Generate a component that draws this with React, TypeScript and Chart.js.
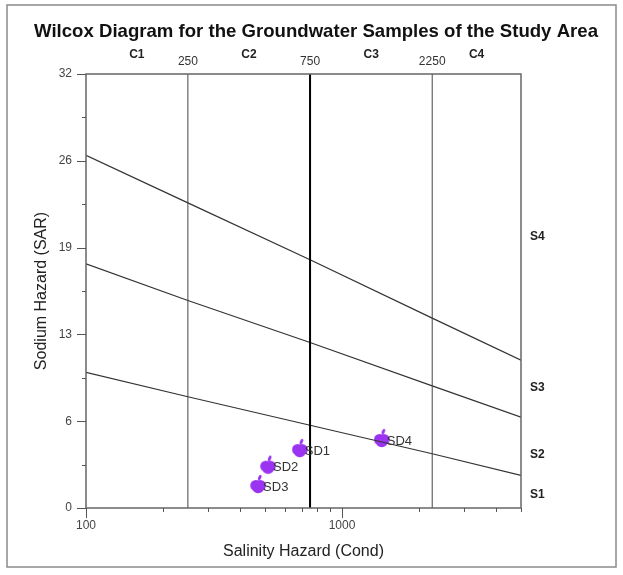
import { useEffect, useRef } from 'react';
import { Chart, registerables } from 'chart.js';

Chart.register(...registerables);

const FONT = '"Liberation Sans", Arial, sans-serif';

const chartTitle = 'Wilcox Diagram for the Groundwater Samples of the Study Area';
const xTitle = 'Salinity Hazard (Cond)';
const yTitle = 'Sodium Hazard (SAR)';

// Samples
const sampleNames = ['SD1', 'SD2', 'SD3', 'SD4'];
const sampleCond = [684, 514, 470, 1429];
const sampleSAR = [4.35, 3.12, 1.7, 5.09];

// Sodium hazard boundary lines (read at these conductivities)
const boundaryCond = [100, 250, 750, 2250, 5000];
const lineS4S3 = [26.0, 22.5, 18.3, 14.0, 10.9];
const lineS3S2 = [18.0, 15.3, 12.2, 9.0, 6.7];
const lineS2S1 = [10.0, 8.2, 6.1, 4.0, 2.4];

// Salinity class limits
const classLimits = [250, 750, 2250];
const classLimitLabels = ['250', '750', '2250'];
const classNames = ['C1', 'C2', 'C3', 'C4'];
const classLabelCond = [158, 433, 1300, 3354];

const sodiumNames = ['S1', 'S2', 'S3', 'S4'];
const sodiumLabelSAR = [1.0, 3.9, 8.9, 20.0];

// Axes
const xMin = 100;
const xMax = 5000;
const yMin = 0;
const yMax = 32;
const xTickValues = [100, 1000];
const xTickLabels = ['100', '1000'];
const xMinorValues = [200, 300, 400, 500, 600, 700, 800, 900, 2000, 3000, 4000, 5000];
const yTickValues = [0, 6.4, 12.8, 19.2, 25.6, 32];
const yTickLabels = ['0', '6', '13', '19', '26', '32'];
const yMinorValues = [3.2, 9.6, 16, 22.4, 28.8];

function makeApple(color: string): HTMLCanvasElement {
  const c = document.createElement('canvas');
  c.width = 16;
  c.height = 22;
  const g = c.getContext('2d')!;
  g.fillStyle = color;
  g.beginPath();
  g.arc(5.8, 11.5, 5.6, 0, Math.PI * 2);
  g.arc(10.2, 11.5, 5.6, 0, Math.PI * 2);
  g.fill();
  g.beginPath();
  g.arc(8, 13, 6.2, 0, Math.PI * 2);
  g.fill();
  g.beginPath();
  g.ellipse(9.6, 3.6, 1.5, 3, 0.45, 0, Math.PI * 2);
  g.fill();
  return c;
}

const decorPlugin = {
  id: 'decor',
  beforeDraw(chart: any) {
    const ctx = chart.ctx;
    ctx.save();
    ctx.fillStyle = '#ffffff';
    ctx.fillRect(0, 0, chart.width, chart.height);
    ctx.restore();
  },
  afterDraw(chart: any) {
    const ctx = chart.ctx;
    const xs = chart.scales.x;
    const ys = chart.scales.y;
    const { left, right, top, bottom } = chart.chartArea;
    ctx.save();

    // outer frame
    ctx.strokeStyle = '#8a8a8a';
    ctx.lineWidth = 1.5;
    ctx.strokeRect(7, 5, 609, 562);

    // plot frame
    ctx.strokeStyle = '#666';
    ctx.lineWidth = 1.5;
    ctx.strokeRect(left, top, right - left, bottom - top);

    // ticks
    ctx.strokeStyle = '#555';
    ctx.lineWidth = 1;
    ctx.beginPath();
    yTickValues.forEach((v) => {
      const y = Math.round(ys.getPixelForValue(v)) + 0.5;
      ctx.moveTo(left - 9, y);
      ctx.lineTo(left, y);
    });
    yMinorValues.forEach((v) => {
      const y = Math.round(ys.getPixelForValue(v)) + 0.5;
      ctx.moveTo(left - 4, y);
      ctx.lineTo(left, y);
    });
    xTickValues.forEach((v) => {
      const x = Math.round(xs.getPixelForValue(v)) + 0.5;
      ctx.moveTo(x, bottom);
      ctx.lineTo(x, bottom + 10);
    });
    xMinorValues.forEach((v) => {
      const x = Math.round(xs.getPixelForValue(v)) + 0.5;
      ctx.moveTo(x, bottom);
      ctx.lineTo(x, bottom + 4);
    });
    ctx.stroke();

    // chart title
    ctx.fillStyle = '#111';
    ctx.font = `bold 18.6px ${FONT}`;
    ctx.textAlign = 'center';
    ctx.textBaseline = 'middle';
    ctx.fillText(chartTitle, 316, 32);

    // class limit labels
    ctx.font = `12px ${FONT}`;
    ctx.fillStyle = '#333';
    classLimits.forEach((v, i) => {
      ctx.fillText(classLimitLabels[i], xs.getPixelForValue(v), 62);
    });
    ctx.font = `bold 12px ${FONT}`;
    ctx.fillStyle = '#222';
    classNames.forEach((n, i) => {
      ctx.fillText(n, xs.getPixelForValue(classLabelCond[i]), 55);
    });

    // sodium labels
    ctx.textAlign = 'left';
    sodiumNames.forEach((n, i) => {
      ctx.fillText(n, right + 9, ys.getPixelForValue(sodiumLabelSAR[i]));
    });

    // sample labels
    const meta = chart.getDatasetMeta(chart.data.datasets.length - 1);
    ctx.font = `13px ${FONT}`;
    ctx.fillStyle = '#333';
    meta.data.forEach((el: any, i: number) => {
      ctx.fillText(sampleNames[i], el.x + 5, el.y + 2);
    });

    ctx.restore();
  },
};

export default function App() {
  const ref = useRef<HTMLCanvasElement | null>(null);

  useEffect(() => {
    if (!ref.current) return;
    const apple = makeApple('#9b34f0');
    const mkLine = (vals: number[]) => ({
      type: 'line' as const,
      data: boundaryCond.map((x, i) => ({ x, y: vals[i] })),
      borderColor: '#333',
      borderWidth: 1.2,
      pointRadius: 0,
      showLine: true,
      fill: false,
      tension: 0,
    });
    const vLine = (x: number, i: number) => ({
      type: 'line' as const,
      data: [
        { x, y: yMin },
        { x, y: yMax },
      ],
      borderColor: i === 1 ? '#000' : '#444',
      borderWidth: i === 1 ? 2 : 1,
      pointRadius: 0,
      showLine: true,
      fill: false,
    });
    const chart = new Chart(ref.current, {
      type: 'scatter',
      data: {
        datasets: [
          ...classLimits.map(vLine),
          mkLine(lineS4S3),
          mkLine(lineS3S2),
          mkLine(lineS2S1),
          {
            type: 'scatter' as const,
            data: sampleCond.map((x, i) => ({ x, y: sampleSAR[i] })),
            pointStyle: apple,
            pointRadius: 8,
          },
        ] as any,
      },
      options: {
        responsive: false,
        animation: false,
        devicePixelRatio: 1,
        layout: { padding: { left: 0, right: 102, top: 74, bottom: 0 } },
        plugins: {
          legend: { display: false },
          tooltip: { enabled: false },
          title: { display: false },
        },
        scales: {
          x: {
            type: 'logarithmic',
            min: xMin,
            max: xMax,
            afterFit: (s: any) => {
              s.height = 67;
            },
            afterBuildTicks: (s: any) => {
              s.ticks = xTickValues.map((v) => ({ value: v }));
            },
            ticks: {
              autoSkip: false,
              maxRotation: 0,
              padding: 2,
              color: '#444',
              font: { family: FONT, size: 12 },
              callback: (v: any) => {
                const i = xTickValues.indexOf(Number(v));
                return i >= 0 ? xTickLabels[i] : '';
              },
            },
            grid: { display: false },
            border: { display: false },
            title: {
              display: true,
              text: xTitle,
              color: '#222',
              font: { family: FONT, size: 16 },
              padding: { top: 0, bottom: 14 },
            },
          },
          y: {
            type: 'linear',
            min: yMin,
            max: yMax,
            afterFit: (s: any) => {
              s.width = 86;
            },
            afterBuildTicks: (s: any) => {
              s.ticks = yTickValues.map((v) => ({ value: v }));
            },
            ticks: {
              autoSkip: false,
              padding: 15 - 9,
              color: '#444',
              font: { family: FONT, size: 12 },
              callback: (_v: any, i: number) => yTickLabels[i],
            },
            grid: { display: false },
            border: { display: false },
            title: {
              display: true,
              text: yTitle,
              color: '#222',
              font: { family: FONT, size: 16 },
              padding: { top: 32, bottom: 0 },
            },
          },
        },
      } as any,
      plugins: [decorPlugin],
    });
    return () => chart.destroy();
  }, []);

  return (
    <div style={{ position: 'absolute', left: 0, top: 0, width: 623, height: 575 }}>
      <canvas ref={ref} width={623} height={575} style={{ width: 623, height: 575 }} />
    </div>
  );
}
